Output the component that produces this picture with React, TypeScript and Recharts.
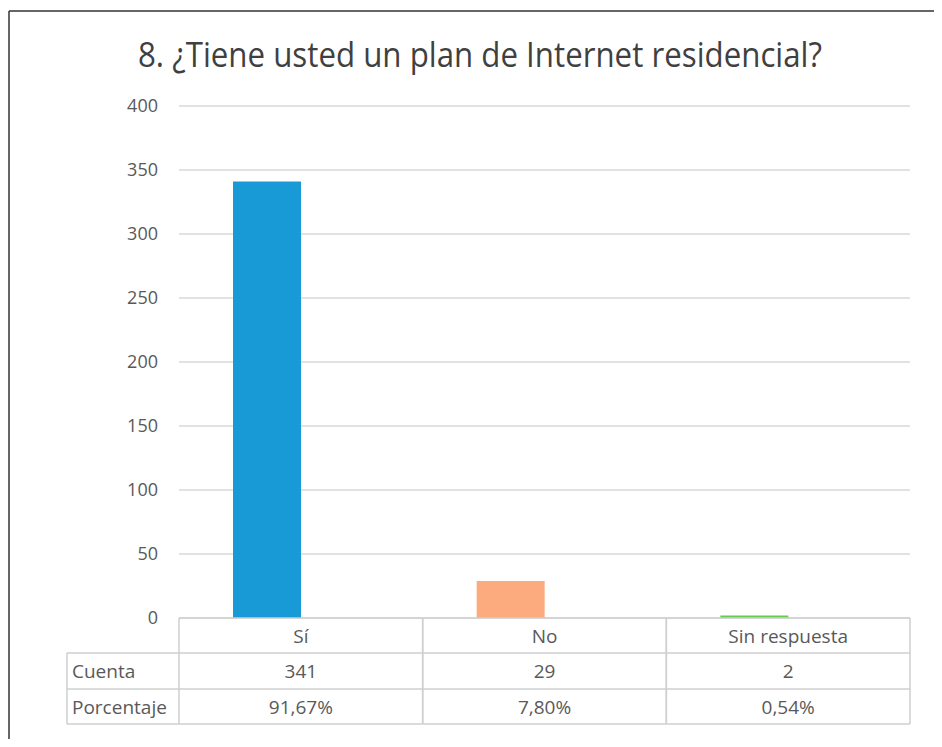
import React from "react";
import { BarChart, Bar, XAxis, YAxis, CartesianGrid, Cell } from "recharts";

const categories = ["Sí", "No", "Sin respuesta"];
const cuenta = [341, 29, 2];
const porcentaje = [0.9167, 0.078, 0.0054];
const porcentajeLabels = ["91,67%", "7,80%", "0,54%"];
const barColors = ["#189ad6", "#fcab7e", "#66cc4e"];
const yTicks = [0, 50, 100, 150, 200, 250, 300, 350, 400];
const title = "8. ¿Tiene usted un plan de Internet residencial?";
const rowLabels = ["Cuenta", "Porcentaje"];

const data = categories.map((c, i) => ({
  name: c,
  cuenta: cuenta[i],
  porcentaje: porcentaje[i],
}));

const W = 934;
const H = 731;
const PLOT_LEFT = 171;
const PLOT_RIGHT = 902;
const PLOT_TOP = 98;
const PLOT_BOTTOM = 610;
const COL_W = (PLOT_RIGHT - PLOT_LEFT) / categories.length;
const ROW_H = [35, 36, 35];
const FONT = "'Open Sans', 'Noto Sans', sans-serif";
const TEXT = "#595959";
const BORDER = "#cfcfcf";
const TABLE_FS = 19;

const TableTick = (props: any) => {
  const { x, y, payload } = props;
  const i = payload.index;
  const left = x - COL_W / 2;
  const right = x + COL_W / 2;
  const r0 = y;
  const r1 = r0 + ROW_H[0];
  const r2 = r1 + ROW_H[1];
  const r3 = r2 + ROW_H[2];
  const cells = [categories[i], String(cuenta[i]), porcentajeLabels[i]];
  const tops = [r0, r1, r2];
  return (
    <g>
      <line x1={left} x2={right} y1={r0} y2={r0} stroke={BORDER} strokeWidth={1.5} />
      <line x1={left} x2={right} y1={r1} y2={r1} stroke={BORDER} strokeWidth={1.5} />
      <line x1={left} x2={right} y1={r2} y2={r2} stroke={BORDER} strokeWidth={1.5} />
      <line x1={left} x2={right} y1={r3} y2={r3} stroke={BORDER} strokeWidth={1.5} />
      <line x1={left} x2={left} y1={r0} y2={r3} stroke={BORDER} strokeWidth={1.5} />
      <line x1={right} x2={right} y1={r0} y2={r3} stroke={BORDER} strokeWidth={1.5} />
      {cells.map((t, k) => (
        <text
          key={k}
          x={x}
          y={tops[k] + ROW_H[k] / 2 + 7}
          textAnchor="middle"
          fontFamily={FONT}
          fontSize={TABLE_FS}
          fill={TEXT}
        >
          {t}
        </text>
      ))}
    </g>
  );
};

export default function App() {
  const r1 = PLOT_BOTTOM + ROW_H[0];
  const r2 = r1 + ROW_H[1];
  const r3 = r2 + ROW_H[2];
  return (
    <div style={{ position: "relative", width: W, height: H }}>
      <BarChart
        width={W}
        height={H}
        data={data}
        margin={{ top: PLOT_TOP, right: W - PLOT_RIGHT, left: 0, bottom: 0 }}
        barGap={0}
        barSize={68}
      >
        <CartesianGrid vertical={false} stroke="#d9d9d9" strokeWidth={1.5} />
        <YAxis
          width={PLOT_LEFT}
          domain={[0, 400]}
          ticks={yTicks}
          axisLine={false}
          tickLine={false}
          tickSize={0}
          tickMargin={21}
          tick={{ fontFamily: FONT, fontSize: 18, fill: TEXT }}
        />
        <XAxis
          dataKey="name"
          height={H - PLOT_BOTTOM}
          axisLine={false}
          tickLine={false}
          tickSize={0}
          tickMargin={0}
          interval={0}
          tick={(p: any) => <TableTick {...p} />}
        />
        <Bar dataKey="cuenta" isAnimationActive={false}>
          {data.map((d, i) => (
            <Cell key={d.name} fill={barColors[i]} />
          ))}
        </Bar>
        <Bar dataKey="porcentaje" isAnimationActive={false} fill="transparent" />
      </BarChart>
      <svg
        width={W}
        height={H}
        style={{ position: "absolute", left: 0, top: 0, pointerEvents: "none" }}
      >
        <line x1={1} x2={1} y1={3} y2={H} stroke="#333" strokeWidth={1.5} />
        <line x1={1} x2={W} y1={3} y2={3} stroke="#333" strokeWidth={1.5} />
        <text
          x={472}
          y={59}
          textAnchor="middle"
          fontFamily={FONT}
          fontSize={34}
          fill="#404040"
          textLength={684}
          lengthAdjust="spacingAndGlyphs"
        >
          {title}
        </text>
        <line x1={59} x2={PLOT_LEFT} y1={r1} y2={r1} stroke={BORDER} strokeWidth={1.5} />
        <line x1={59} x2={PLOT_LEFT} y1={r2} y2={r2} stroke={BORDER} strokeWidth={1.5} />
        <line x1={59} x2={PLOT_LEFT} y1={r3} y2={r3} stroke={BORDER} strokeWidth={1.5} />
        <line x1={59} x2={59} y1={r1} y2={r3} stroke={BORDER} strokeWidth={1.5} />
        <text x={64} y={r1 + ROW_H[1] / 2 + 7} fontFamily={FONT} fontSize={TABLE_FS} fill={TEXT}>
          {rowLabels[0]}
        </text>
        <text x={64} y={r2 + ROW_H[2] / 2 + 7} fontFamily={FONT} fontSize={TABLE_FS} fill={TEXT}>
          {rowLabels[1]}
        </text>
      </svg>
    </div>
  );
}
